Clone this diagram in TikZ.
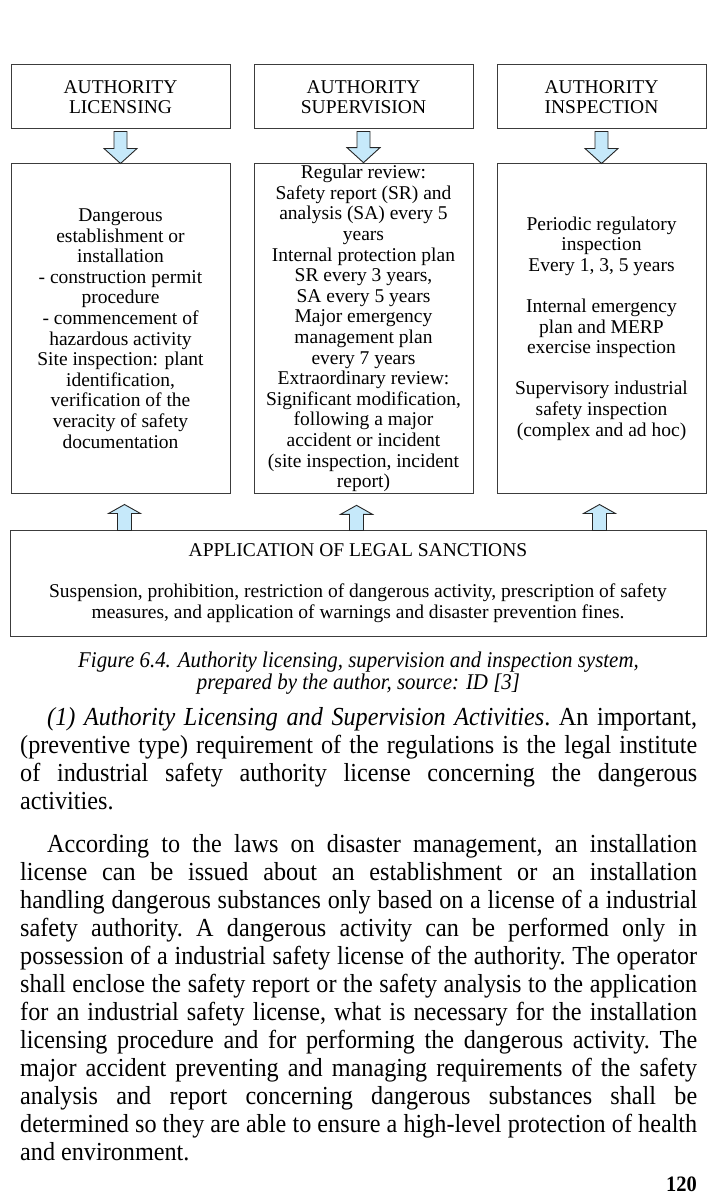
\documentclass[tikz,border=0pt]{standalone}
\usepackage{fontspec}
\setmainfont{Liberation Serif}
\newfontfamily\bodyfont[FakeStretch=0.93]{Liberation Serif}
\usetikzlibrary{calc}
\definecolor{arrowblue}{RGB}{198,233,250}
\definecolor{boxline}{RGB}{60,60,60}
\tikzset{
  box/.style={draw=boxline, line width=1pt, align=center, inner sep=2pt,
    font=\fontsize{19.5}{20.6}\selectfont},
  barrow/.style={draw=black!85, fill=arrowblue, line width=0.9pt, line join=miter},
  bodytext/.style={anchor=north west, text width=677pt, align=justify, inner sep=0pt,
    font=\bodyfont\fontsize{26}{28}\selectfont},
}
\newcommand\downarr[2]{\path[barrow] let \p1=(#1.south), \p2=(#2.north) in
  (\x1-6.5pt,\y1-2pt) -- (\x1+6.5pt,\y1-2pt) -- (\x1+6.5pt,\y2+15pt) -- (\x1+16.5pt,\y2+15pt)
  -- (\x1,\y2) -- (\x1-16.5pt,\y2+15pt) -- (\x1-6.5pt,\y2+15pt) -- cycle;}
\newcommand\uparr[2]{\path[barrow] let \p1=(#1), \p2=(#2.south) in
  (\x1-7pt,\y1-1pt) -- (\x1+7pt,\y1-1pt) -- (\x1+7pt,\y2-20pt) -- (\x1+16pt,\y2-20pt)
  -- (\x1,\y2-11pt) -- (\x1-16pt,\y2-20pt) -- (\x1-7pt,\y2-20pt) -- cycle;}
\begin{document}
\begin{tikzpicture}[x=1pt,y=-1pt]
\fill[white] (0,0) rectangle (726,1201);
\useasboundingbox (0,0) rectangle (726,1201);
% top boxes
\node[box, minimum width=219pt, minimum height=64pt] (t1) at (120.5,97) {AUTHORITY\\LICENSING};
\node[box, minimum width=219pt, minimum height=64pt] (t2) at (363.5,97) {AUTHORITY\\SUPERVISION};
\node[box, minimum width=209pt, minimum height=64pt] (t3) at (601.5,97) {AUTHORITY\\INSPECTION};
% middle boxes
\node[box, minimum width=219pt, minimum height=329pt] (m1) at (120.5,328.5) {Dangerous\\establishment or\\installation\\- construction permit\\procedure\\- commencement of\\hazardous activity\\Site inspection: plant\\identification,\\verification of the\\veracity of safety\\documentation};
\node[box, minimum width=219pt, minimum height=329pt] (m2) at (363.5,328.5) {Regular review:\\Safety report (SR) and\\analysis (SA) every 5\\years\\Internal protection plan\\SR every 3 years,\\SA every 5 years\\Major emergency\\management plan\\every 7 years\\Extraordinary review:\\Significant modification,\\following a major\\accident or incident\\(site inspection, incident\\report)};
\node[box, minimum width=209pt, minimum height=329pt] (m3) at (601.5,328.5) {Periodic regulatory\\inspection\\Every 1, 3, 5 years\\[20.6pt]Internal emergency\\plan and MERP\\exercise inspection\\[20.6pt]Supervisory industrial\\safety inspection\\(complex and ad hoc)};
% bottom box
\node[box, minimum width=696pt, minimum height=106pt] (bot) at (358,583) {APPLICATION OF LEGAL SANCTIONS\\[20.6pt]Suspension, prohibition, restriction of dangerous activity, prescription of safety\\measures, and application of warnings and disaster prevention fines.};
% arrows
\downarr{t1}{m1}
\downarr{t2}{m2}
\downarr{t3}{m3}
\coordinate (u1) at ($(bot.north west)+(115,0)$);
\coordinate (u2) at ($(bot.north west)+(347,0)$);
\coordinate (u3) at ($(bot.north west)+(590,0)$);
\uparr{u1}{m1}
\uparr{u2}{m2}
\uparr{u3}{m3}
% caption
\node[align=center, inner sep=0pt, font=\bodyfont\itshape\fontsize{22.5}{22}\selectfont] (cap) at (358.5,673)
  {Figure 6.4. Authority licensing, supervision and inspection system,\\prepared by the author, source: ID [3]};
% body text
\node[bodytext] (p1) at (20,707) {\frenchspacing\hyphenpenalty=10000\tolerance=10000\hspace*{27pt}\textit{(1) Authority Licensing and Supervision Activities}. An important,\linebreak
(preventive type) requirement of the regulations is the legal institute\linebreak
of industrial safety authority license concerning the dangerous\linebreak
activities.};
\node[bodytext] (p2) at (20,834) {\frenchspacing\hyphenpenalty=10000\tolerance=10000\hspace*{27pt}According to the laws on disaster management, an installation\linebreak
license can be issued about an establishment or an installation\linebreak
handling dangerous substances only based on a license of a industrial\linebreak
safety authority. A dangerous activity can be performed only in\linebreak
possession of a industrial safety license of the authority. The operator\linebreak
shall enclose the safety report or the safety analysis to the application\linebreak
for an industrial safety license, what is necessary for the installation\linebreak
licensing procedure and for performing the dangerous activity. The\linebreak
major accident preventing and managing requirements of the safety\linebreak
analysis and report concerning dangerous substances shall be\linebreak
determined so they are able to ensure a high-level protection of health\linebreak
and environment.};
\node[anchor=base east, inner sep=0pt, font=\bodyfont\bfseries\fontsize{22}{22}\selectfont] (pg) at (697,1191) {120};
\end{tikzpicture}
\end{document}
